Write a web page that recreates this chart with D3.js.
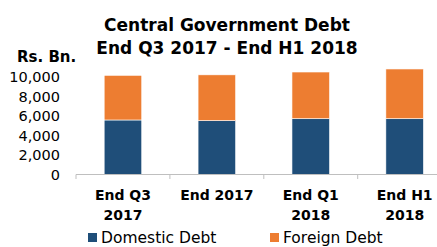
<!DOCTYPE html>
<html><head><meta charset="utf-8">
<script src="https://cdn.jsdelivr.net/npm/d3@7"></script>
<style>
html,body{margin:0;padding:0;background:#fff;}
svg{display:block;}
text{font-family:"DejaVu Sans",sans-serif;fill:#000;}
</style></head>
<body>
<script>
const categories = [["End Q3","2017"],["End 2017"],["End Q1","2018"],["End H1","2018"]];
const domestic = [5580, 5510, 5710, 5710];
const foreign = [4570, 4690, 4780, 5090];
const yTicks = [0, 2000, 4000, 6000, 8000, 10000];
const seriesNames = ["Domestic Debt", "Foreign Debt"];
const colors = ["#1F4E79", "#ED7D31"];

const W = 437, H = 247;
const svg = d3.select("body").append("svg").attr("width", W).attr("height", H);

const x = d3.scaleBand().domain(d3.range(categories.length)).range([76, 451.6]).paddingInner(0.6).paddingOuter(0.3);
const y = d3.scaleLinear().domain([0, 10000]).range([174.5, 76.8]);

const data = categories.map((c, i) => ({i, domestic: domestic[i], foreign: foreign[i]}));
const stack = d3.stack().keys(["domestic", "foreign"])(data);

svg.append("g").selectAll("g").data(stack).join("g")
  .attr("fill", (d, k) => colors[k])
  .selectAll("rect").data(d => d).join("rect")
  .attr("x", d => x(d.data.i))
  .attr("width", x.bandwidth())
  .attr("y", d => y(d[1]))
  .attr("height", d => y(d[0]) - y(d[1]))
  .attr("stroke", "#ffffff").attr("stroke-width", 0.6);

// y axis labels
svg.append("g").selectAll("text").data(yTicks).join("text")
  .attr("x", 60).attr("y", d => y(d)).attr("dy", "0.36em")
  .attr("text-anchor", "end").style("font-size", "14.5px")
  .text(d => d3.format(",")(d));

// x axis
const xa = svg.append("g");
xa.append("line").attr("x1", 76).attr("x2", 451.6).attr("y1", 174.5).attr("y2", 174.5)
  .attr("stroke", "#bfbfbf").attr("stroke-width", 1);
xa.selectAll("line.t").data(d3.range(categories.length + 1)).join("line").attr("class", "t")
  .attr("x1", i => x(0) + x.bandwidth()/2 - x.step()/2 + i * x.step())
  .attr("x2", i => x(0) + x.bandwidth()/2 - x.step()/2 + i * x.step())
  .attr("y1", 174.5).attr("y2", 179).attr("stroke", "#bfbfbf");

const labs = xa.selectAll("text").data(categories).join("text")
  .attr("text-anchor", "middle").style("font-size", "14px").style("font-weight", "bold");
labs.each(function(lines, i) {
  const t = d3.select(this);
  lines.forEach((l, j) => {
    t.append("tspan").attr("x", x(i) + x.bandwidth()/2).attr("y", 195 + j * 20).attr("dy", "0.36em").text(l);
  });
});

// title
svg.append("text").attr("x", 227).attr("y", 25).attr("dy", "0.36em").attr("text-anchor", "middle")
  .style("font-size", "17px").style("font-weight", "bold").text("Central Government Debt");
svg.append("text").attr("x", 227).attr("y", 48).attr("dy", "0.36em").attr("text-anchor", "middle")
  .style("font-size", "17px").style("font-weight", "bold").text("End Q3 2017 - End H1 2018");
svg.append("text").attr("x", 17).attr("y", 57).attr("dy", "0.36em")
  .style("font-size", "15px").style("font-weight", "bold").text("Rs. Bn.");

// legend
const legX = [88, 270];
const lg = svg.append("g").selectAll("g").data(seriesNames).join("g")
  .attr("transform", (d, i) => `translate(${legX[i]},237.5)`);
lg.append("rect").attr("x", 0).attr("y", -4.5).attr("width", 9).attr("height", 9).attr("fill", (d, i) => colors[i]);
lg.append("text").attr("x", 13).attr("y", 0).attr("dy", "0.36em").style("font-size", "15.5px").text(d => d);
</script>
</body></html>
